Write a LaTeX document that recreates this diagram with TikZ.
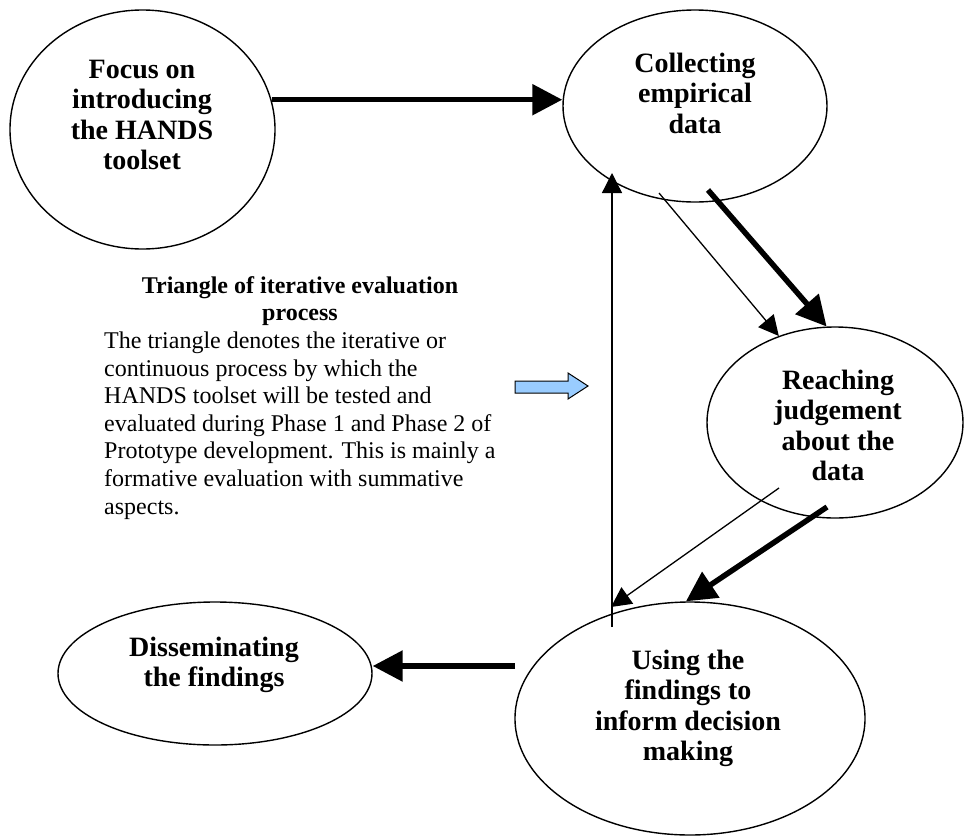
\documentclass[tikz,border=0pt]{standalone}
\usepackage{fontspec}
\setmainfont{Liberation Serif}
\usetikzlibrary{shapes.geometric,arrows.meta}
\definecolor{arrowblue}{RGB}{153,204,255}
\begin{document}
\begin{tikzpicture}[x=1pt,y=-1pt,
  oval/.style={draw, line width=1.4pt, ellipse, inner sep=0pt},
  otext/.style={anchor=north, align=center, inner sep=0pt, font=\fontsize{28}{30.5}\selectfont\bfseries},
  lightarrow/.style={line width=1.3pt, -{Triangle[length=20pt,width=20pt]}},
  heavyarrow/.style={line width=5.5pt, -{Triangle[length=30pt,width=30pt]}},
  blockarrow/.style={draw, fill=arrowblue, line width=1pt, line join=miter},
]
\useasboundingbox (0,0) rectangle (964,836);

% ellipses
\node[oval, minimum width=265pt, minimum height=239pt] (e1) at (142.5,129.5) {};
\node[oval, minimum width=264pt, minimum height=192pt] (e2) at (695,106) {};
\node[oval, minimum width=256pt, minimum height=191pt] (e3) at (835,422.5) {};
\node[oval, minimum width=350pt, minimum height=233pt] (e4) at (690,718.5) {};
\node[oval, minimum width=314pt, minimum height=143pt] (e5) at (215,673.5) {};

% ellipse texts
\node[otext] (t1) at (142,56.65) {\strut Focus on\\introducing\\the HANDS\\toolset};
\node[otext] (t2) at (695,50.65) {\strut Collecting\\empirical\\data};
\node[otext] (t3) at (838,367.65) {\strut Reaching\\judgement\\about the\\data};
\node[otext] (t4) at (688,647.65) {\strut Using the\\findings to\\inform decision\\making};
\node[otext] (t5) at (214,634.65) {\strut Disseminating\\the findings};

% explanatory text
\node[anchor=north, align=center, inner sep=0pt, font=\fontsize{24}{27.6}\selectfont\bfseries] (title) at (300,273.68) {\strut Triangle of iterative evaluation\\process};
\node[anchor=north west, align=left, inner sep=0pt, font=\fontsize{24}{27.6}\selectfont] (body) at (104,328.88) {\strut The triangle denotes the iterative or\\continuous process by which the\\HANDS toolset will be tested and\\evaluated during Phase 1 and Phase 2 of\\Prototype development. This is mainly a\\formative evaluation with summative\\aspects.};

% blue block arrow
\draw[blockarrow] (515,381) -- (568,381) -- (568,373) -- (588,386) -- (568,399) -- (568,393) -- (515,393) -- cycle;

% connector end points
\coordinate (a2s) at (659,193);
\coordinate (a3s) at (708,190);
\coordinate (a4s) at (612,627);
\coordinate (a4e) at (612,173);
\coordinate (a5s) at (779,488);
\coordinate (a5e) at (611,607);
\coordinate (a6s) at (827,507);
\coordinate (a7s) at (515,666);

% connectors
\draw[heavyarrow] (e1.13) -- (e1.13 -| e2.west);
\draw[lightarrow] (a2s) -- (e3.123);
\draw[heavyarrow] (a3s) -- (e3.95);
\draw[lightarrow] (a4s) -- (a4e);
\draw[lightarrow] (a5s) -- (a5e);
\draw[heavyarrow] (a6s) -- (e4.92);
\draw[heavyarrow] (a7s) -- (a7s -| e5.east);
\end{tikzpicture}
\end{document}
